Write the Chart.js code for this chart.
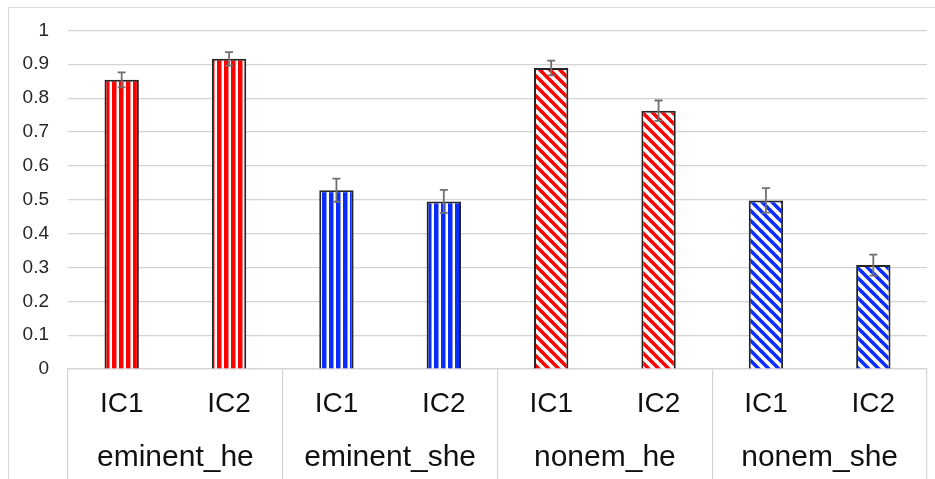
<!DOCTYPE html>
<html>
<head>
<meta charset="utf-8">
<script src="https://cdn.jsdelivr.net/npm/chart.js@4.4.1/dist/chart.umd.min.js"></script>
<style>
  html, body { margin: 0; padding: 0; background: #fff; overflow: hidden; width: 935px; height: 479px; }
  #frame { position: absolute; left: 8px; top: 7px; width: 1000px; height: 1000px; border: 1px solid #d9d9d9; box-sizing: border-box; }
  #c { position: absolute; left: 0; top: 0; }
</style>
</head>
<body>
<div id="frame"></div>
<canvas id="c" width="935" height="479"></canvas>
<script>
// ---- data ----
const conditions = ['IC1', 'IC2', 'IC1', 'IC2', 'IC1', 'IC2', 'IC1', 'IC2'];
const groups = ['eminent_he', 'eminent_she', 'nonem_he', 'nonem_she'];
const values = [0.854, 0.916, 0.528, 0.495, 0.889, 0.763, 0.498, 0.307];
const errors = [0.022, 0.020, 0.034, 0.034, 0.022, 0.030, 0.036, 0.031];
const yTicks = [0, 0.1, 0.2, 0.3, 0.4, 0.5, 0.6, 0.7, 0.8, 0.9, 1];

// ---- patterns ----
const RED = '#ff0000';
const BLUE = '#0a2cff';
function verticalStripes(color) {
  const p = document.createElement('canvas');
  p.width = 7; p.height = 4;
  const g = p.getContext('2d');
  g.fillStyle = '#ffffff'; g.fillRect(0, 0, 7, 4);
  g.fillStyle = color; g.fillRect(0, 0, 4.5, 4);
  return g.createPattern(p, 'repeat');
}
function diagonalStripes(color) {
  const p = document.createElement('canvas');
  p.width = 10; p.height = 10;
  const g = p.getContext('2d');
  g.fillStyle = '#ffffff'; g.fillRect(0, 0, 10, 10);
  g.strokeStyle = color; g.lineWidth = 3.6;
  for (const c of [-10, 0, 10]) {
    g.beginPath(); g.moveTo(c - 1, -1); g.lineTo(c + 11, 11); g.stroke();
  }
  return g.createPattern(p, 'repeat');
}
const pVR = verticalStripes(RED), pVB = verticalStripes(BLUE);
const pDR = diagonalStripes(RED), pDB = diagonalStripes(BLUE);
const fills = [pVR, pVR, pVB, pVB, pDR, pDR, pDB, pDB];

const FONT = "'Liberation Sans', Arial, sans-serif";

const errorBars = {
  id: 'errorBars',
  afterDatasetsDraw(chart) {
    const meta = chart.getDatasetMeta(0);
    const ys = chart.scales.y;
    const ctx = chart.ctx;
    ctx.save();
    ctx.strokeStyle = '#707070';
    ctx.lineWidth = 1.8;
    meta.data.forEach((bar, i) => {
      const x = bar.x;
      const yTop = ys.getPixelForValue(values[i] + errors[i]);
      const yBot = ys.getPixelForValue(values[i] - errors[i]);
      ctx.beginPath();
      ctx.moveTo(x, yTop); ctx.lineTo(x, yBot);
      ctx.moveTo(x - 4, yTop); ctx.lineTo(x + 4, yTop);
      ctx.moveTo(x - 4, yBot); ctx.lineTo(x + 4, yBot);
      ctx.stroke();
    });
    ctx.restore();
  }
};

new Chart(document.getElementById('c'), {
  type: 'bar',
  data: {
    labels: conditions,
    datasets: [{
      data: values,
      backgroundColor: fills,
      borderColor: '#262626',
      borderWidth: 2,
      barPercentage: 0.32,
      categoryPercentage: 1.0,
      xAxisID: 'x',
      yAxisID: 'y'
    }]
  },
  options: {
    responsive: false,
    animation: false,
    layout: { padding: { top: 26, right: 8, left: 0, bottom: 0 } },
    plugins: { legend: { display: false }, tooltip: { enabled: false } },
    scales: {
      y: {
        min: 0, max: 1,
        afterBuildTicks: (s) => { s.ticks = yTicks.map(v => ({ value: v })); },
        afterFit: (s) => { s.width = 68; },
        border: { display: false },
        grid: { color: '#d4d4d4', lineWidth: 1.2, drawTicks: false },
        ticks: {
          padding: 19,
          color: '#262626',
          font: { family: FONT, size: 19 },
          callback: (v) => String(Math.round(v * 10) / 10)
        }
      },
      x: {
        type: 'category',
        position: 'bottom',
        offset: true,
        afterFit: (s) => { s.height = 62; },
        border: { display: true, color: '#d4d4d4', width: 1.2 },
        grid: {
          offset: true,
          drawOnChartArea: false,
          drawTicks: true,
          tickLength: 62,
          lineWidth: 1.2,
          color: (c) => (c.index === undefined || c.index % 2 === 0) ? '#d4d4d4' : 'rgba(0,0,0,0)'
        },
        ticks: {
          padding: -44,
          color: '#111111',
          font: { family: FONT, size: 28 },
          maxRotation: 0, autoSkip: false
        }
      },
      x2: {
        type: 'category',
        labels: groups,
        position: 'bottom',
        offset: true,
        afterFit: (s) => { s.height = 48; },
        border: { display: false },
        grid: {
          offset: true,
          drawOnChartArea: false,
          drawTicks: true,
          tickLength: 48,
          lineWidth: 1.2,
          color: '#d4d4d4'
        },
        ticks: {
          padding: -39,
          color: '#111111',
          font: { family: FONT, size: 30 },
          maxRotation: 0, autoSkip: false
        }
      }
    }
  },
  plugins: [errorBars]
});
</script>
</body>
</html>
